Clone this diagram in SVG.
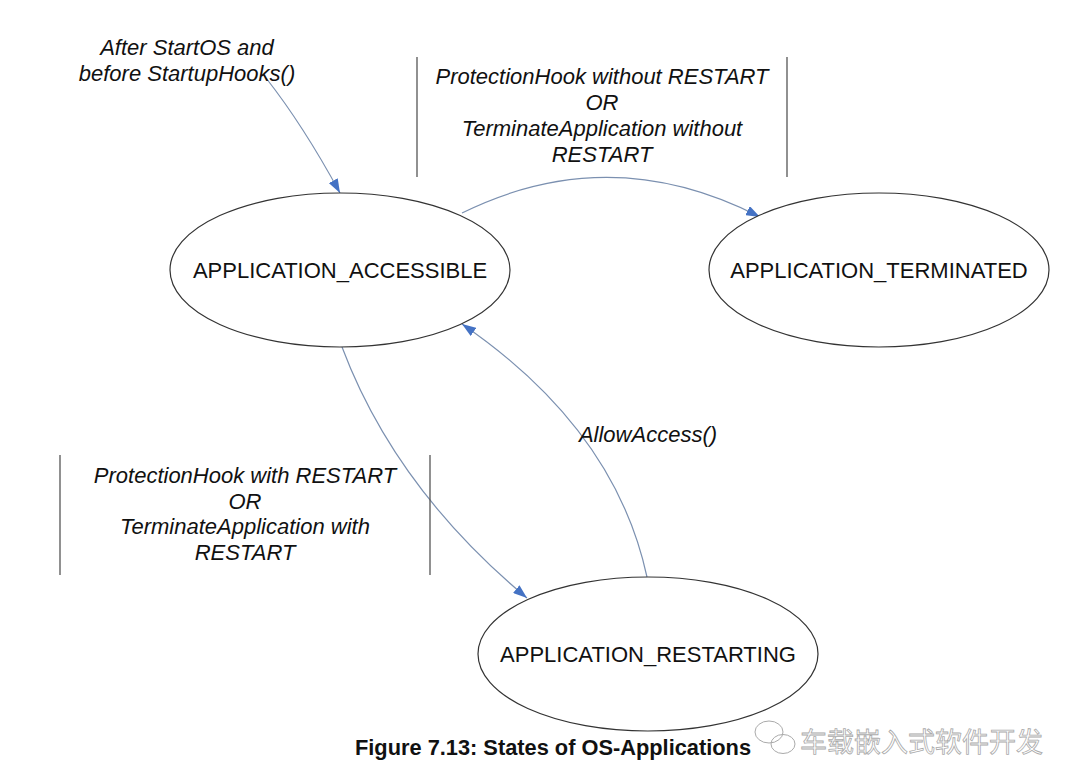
<svg xmlns="http://www.w3.org/2000/svg" width="1080" height="780" viewBox="0 0 1080 780">
<style>
.node{fill:#fff;stroke:#333;stroke-width:1.2}
.nt{font-family:"Liberation Sans",Arial,sans-serif;font-size:22px;fill:#111;text-anchor:middle}
.lbl{font-family:"Liberation Sans",Arial,sans-serif;font-size:22px;font-style:italic;fill:#111;text-anchor:middle}
.edge{fill:none;stroke:#7b90b0;stroke-width:1.2;marker-end:url(#arr)}
.bar{stroke:#555;stroke-width:1.3}
.cap{font-family:"Liberation Sans",Arial,sans-serif;font-size:21.8px;font-weight:bold;fill:#111;text-anchor:middle}
.wm{font-family:"Noto Sans CJK SC",sans-serif;font-size:27px;fill:#fff;stroke:#aaa;stroke-width:0.8}
</style>
<defs>
<marker id="arr" viewBox="0 0 14 10" refX="14" refY="5" markerWidth="14" markerHeight="10" markerUnits="userSpaceOnUse" orient="auto">
<path d="M0,0 L14,5 L0,10 z" fill="#4472c4"/>
</marker>
</defs>
<rect width="1080" height="780" fill="#fff"/>
<g id="connectors">
<path class="edge" d="M266,78 Q303,125 340,193"/>
<path class="edge" d="M462,213 Q610,140 760,217"/>
<path class="edge" d="M342,347 Q395,488 527,598"/>
<path class="edge" d="M647,577 Q615,429 462,324"/>
</g>
<g id="labels">
<text class="lbl" x="187" y="55">After StartOS and</text>
<text class="lbl" x="187" y="81">before StartupHooks()</text>
<line class="bar" x1="417" y1="57" x2="417" y2="177"/>
<line class="bar" x1="787" y1="57" x2="787" y2="177"/>
<text class="lbl" x="602" y="84">ProtectionHook without RESTART</text>
<text class="lbl" x="602" y="110">OR</text>
<text class="lbl" x="602" y="136">TerminateApplication without</text>
<text class="lbl" x="602" y="162">RESTART</text>
<line class="bar" x1="60" y1="455" x2="60" y2="575"/>
<line class="bar" x1="430" y1="455" x2="430" y2="575"/>
<text class="lbl" x="245" y="483">ProtectionHook with RESTART</text>
<text class="lbl" x="245" y="509">OR</text>
<text class="lbl" x="245" y="534">TerminateApplication with</text>
<text class="lbl" x="245" y="560">RESTART</text>
<text class="lbl" x="648" y="442">AllowAccess()</text>
</g>
<g id="accessible">
<ellipse class="node" cx="340" cy="270" rx="170" ry="77"/>
<text class="nt" x="340" y="278">APPLICATION_ACCESSIBLE</text>
</g>
<g id="terminated">
<ellipse class="node" cx="879" cy="270" rx="170" ry="77"/>
<text class="nt" x="879" y="278">APPLICATION_TERMINATED</text>
</g>
<g id="restarting">
<ellipse class="node" cx="648" cy="654" rx="170" ry="77"/>
<text class="nt" x="648" y="662">APPLICATION_RESTARTING</text>
</g>
<text class="cap" x="553" y="755">Figure 7.13: States of OS-Applications</text>
<g id="watermark" fill="none" stroke="#aaa" stroke-width="1">
<ellipse cx="769" cy="732" rx="14" ry="11"/>
<ellipse cx="783" cy="744" rx="12" ry="9.5"/>
<text class="wm" x="800" y="752">车载嵌入式软件开发</text>
</g>
</svg>
